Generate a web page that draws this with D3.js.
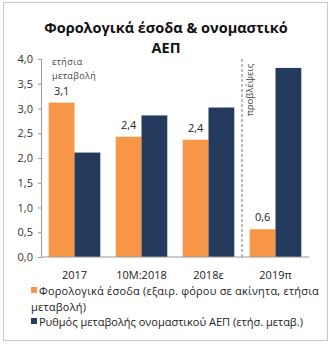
<!DOCTYPE html>
<html>
<head>
<meta charset="utf-8">
<script src="https://cdn.jsdelivr.net/npm/d3@7"></script>
<style>
  body { margin: 0; background: #fff; }
  svg { font-family: "Open Sans", sans-serif; }
</style>
</head>
<body>
<svg id="chart"></svg>
<script>
// categories and series
const categories = ["2017", "10M:2018", "2018ε", "2019π"];
const taxRevenue = [3.12, 2.43, 2.37, 0.56];
const nominalGdp = [2.11, 2.86, 3.02, 3.82];
const seriesNames = [
  "Φορολογικά έσοδα (εξαιρ. φόρου σε ακίνητα, ετήσια μεταβολή)",
  "Ρυθμός μεταβολής ονομαστικού ΑΕΠ (ετήσ. μεταβ.)"
];
const yTicks = [0, 0.5, 1, 1.5, 2, 2.5, 3, 3.5, 4];

const colors = ["#F79646", "#243B5E"];

const width = 331, height = 346;
const margin = {top: 59, right: 22, bottom: 89, left: 41};
const innerW = width - margin.left - margin.right;
const innerH = height - margin.top - margin.bottom;

const svg = d3.select("#chart")
  .attr("width", width)
  .attr("height", height);

// outer frame
svg.append("rect")
  .attr("x", 3.5).attr("y", 2.5)
  .attr("width", 324).attr("height", 338)
  .attr("fill", "none")
  .attr("stroke", "#c8c8c8");

// title
const title = svg.append("text")
  .attr("text-anchor", "middle")
  .attr("font-weight", "bold")
  .attr("font-size", 14.5)
  .attr("fill", "#111");
title.append("tspan").attr("x", 166).attr("y", 33).text("Φορολογικά έσοδα & ονομαστικό");
title.append("tspan").attr("x", 166).attr("y", 53).text("ΑΕΠ");

const chart = svg.append("g")
  .attr("transform", `translate(${margin.left}, ${margin.top})`);

const x = d3.scaleBand()
  .domain(categories)
  .range([0, innerW])
  .paddingInner(0.23)
  .paddingOuter(0.115);

const xSub = d3.scaleBand()
  .domain([0, 1])
  .range([0, x.bandwidth()]);

const y = d3.scaleLinear()
  .domain([0, 4])
  .range([innerH, 0]);

// y axis
const yAxis = d3.axisLeft(y)
  .tickValues(yTicks)
  .tickSize(3)
  .tickPadding(5)
  .tickFormat(d => d3.format(".1f")(d).replace(".", ","));

const yAxisGroup = chart.append("g").call(yAxis);
yAxisGroup.select(".domain").attr("stroke", "#9a9a9a");
yAxisGroup.selectAll(".tick line").attr("stroke", "#9a9a9a");
yAxisGroup.selectAll(".tick text")
  .attr("font-size", 11)
  .attr("fill", "#333")
  .attr("font-family", "Open Sans, sans-serif");

// bars
const rows = categories.map((c, i) => ({cat: c, values: [taxRevenue[i], nominalGdp[i]]}));

const groups = chart.selectAll(".group")
  .data(rows)
  .join("g")
  .attr("class", "group")
  .attr("transform", d => `translate(${x(d.cat)}, 0)`);

groups.selectAll("rect")
  .data(d => d.values.map((v, k) => ({k, v})))
  .join("rect")
  .attr("x", d => xSub(d.k))
  .attr("width", xSub.bandwidth())
  .attr("y", d => y(d.v))
  .attr("height", d => innerH - y(d.v))
  .attr("fill", d => colors[d.k]);

// value labels on the tax revenue bars
groups.append("text")
  .attr("x", xSub(0) + xSub.bandwidth() / 2)
  .attr("y", d => y(d.values[0]) - 8)
  .attr("text-anchor", "middle")
  .attr("font-size", 11)
  .attr("fill", "#222")
  .text(d => d3.format(".1f")(d.values[0]).replace(".", ","));

// x axis baseline and labels
chart.append("line")
  .attr("x1", 0).attr("x2", innerW)
  .attr("y1", innerH).attr("y2", innerH)
  .attr("stroke", "#9a9a9a");

chart.selectAll(".xlabel")
  .data(categories)
  .join("text")
  .attr("class", "xlabel")
  .attr("x", d => x(d) + x.bandwidth() / 2)
  .attr("y", innerH + 22)
  .attr("text-anchor", "middle")
  .attr("font-size", 11)
  .attr("fill", "#222")
  .text(d => d);

// forecast separator
const sepX = (x(categories[2]) + x.bandwidth() + x(categories[3])) / 2;
chart.append("line")
  .attr("x1", sepX).attr("x2", sepX)
  .attr("y1", 0).attr("y2", innerH + 2)
  .attr("stroke", "#7a7a7a")
  .attr("stroke-dasharray", "3,2");

chart.append("text")
  .attr("transform", `translate(${sepX + 11}, ${31}) rotate(-90)`)
  .attr("text-anchor", "middle")
  .attr("font-size", 9.5)
  .attr("fill", "#444")
  .text("προβλέψεις");

// unit note
const note = chart.append("text")
  .attr("font-size", 9)
  .attr("fill", "#444")
  .attr("letter-spacing", 0.4);
note.append("tspan").attr("x", 11).attr("y", 6).text("ετήσια");
note.append("tspan").attr("x", 11).attr("y", 20).text("μεταβολή");

// legend
const legend = svg.append("g").attr("font-size", 11).attr("fill", "#222");
legend.append("rect").attr("x", 31).attr("y", 287).attr("width", 6).attr("height", 6).attr("fill", colors[0]);
const l1 = legend.append("text").attr("letter-spacing", 0.2);
l1.append("tspan").attr("x", 39).attr("y", 295).text("Φορολογικά έσοδα (εξαιρ. φόρου σε ακίνητα, ετήσια");
l1.append("tspan").attr("x", 31).attr("y", 311).text("μεταβολή)");
legend.append("rect").attr("x", 31).attr("y", 318).attr("width", 6).attr("height", 6).attr("fill", colors[1]);
legend.append("text").attr("x", 39).attr("y", 326).text(seriesNames[1]);
</script>
</body>
</html>
